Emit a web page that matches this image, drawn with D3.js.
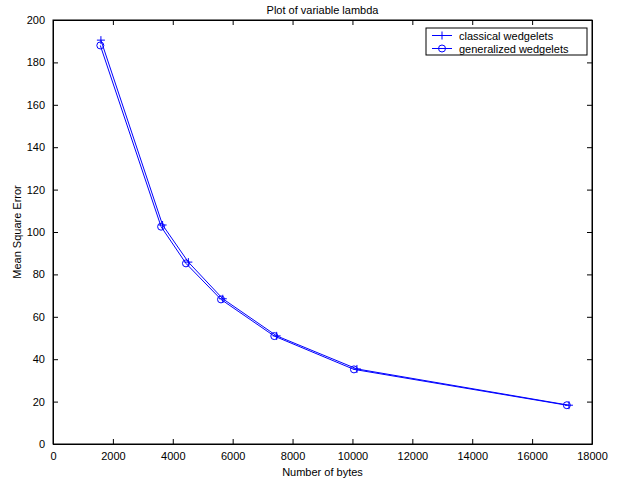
<!DOCTYPE html>
<html>
<head>
<meta charset="utf-8">
<script src="https://cdn.jsdelivr.net/npm/d3@7"></script>
<style>
  body { margin: 0; background: #fff; }
  text { font-family: "Liberation Sans", Arial, sans-serif; }
</style>
</head>
<body>
<div id="chart"></div>
<script>
// values
var classicalBytes = [1600, 3660, 4520, 5670, 7470, 10150, 17230];
var classicalMse   = [190.5, 103.3, 85.8, 68.5, 51.0, 35.4, 18.3];
var generalBytes   = [1580, 3610, 4440, 5610, 7390, 10050, 17160];
var generalMse     = [188.0, 102.5, 85.2, 68.2, 50.9, 35.2, 18.3];
var xTicks = [0, 2000, 4000, 6000, 8000, 10000, 12000, 14000, 16000, 18000];
var yTicks = [0, 20, 40, 60, 80, 100, 120, 140, 160, 180, 200];

var width = 628, height = 481;
var mLeft = 53, mRight = 592, mTop = 20, mBottom = 444;

var svg = d3.select("#chart").append("svg")
    .attr("width", width)
    .attr("height", height);

var x = d3.scaleLinear().domain([0, 18000]).range([mLeft, mRight]);
var y = d3.scaleLinear().domain([0, 200]).range([mBottom, mTop]);

// axes, ticks pointing inward on all four sides
svg.append("g")
    .attr("transform", "translate(0," + mBottom + ")")
    .call(d3.axisBottom(x).tickValues(xTicks).tickSizeInner(-5).tickSizeOuter(0).tickPadding(8).tickFormat(d3.format("d")));
svg.append("g")
    .attr("transform", "translate(0," + mTop + ")")
    .call(d3.axisTop(x).tickValues(xTicks).tickSizeInner(-5).tickSizeOuter(0).tickFormat(""));
svg.append("g")
    .attr("transform", "translate(" + mLeft + ",0)")
    .call(d3.axisLeft(y).tickValues(yTicks).tickSizeInner(-5).tickSizeOuter(0).tickPadding(8));
svg.append("g")
    .attr("transform", "translate(" + mRight + ",0)")
    .call(d3.axisRight(y).tickValues(yTicks).tickSizeInner(-5).tickSizeOuter(0).tickFormat(""));

svg.selectAll(".domain").attr("stroke", "#000");
svg.selectAll(".tick line").attr("stroke", "#000");
svg.selectAll(".tick text")
    .style("font-size", "11px")
    .attr("fill", "#000");

svg.append("rect")
    .attr("x", mLeft).attr("y", mTop)
    .attr("width", mRight - mLeft).attr("height", mBottom - mTop)
    .attr("fill", "none").attr("stroke", "#000");

// title and labels
svg.append("text")
    .attr("x", (mLeft + mRight) / 2).attr("y", 14)
    .attr("text-anchor", "middle")
    .style("font-size", "11px")
    .text("Plot of variable lambda");
svg.append("text")
    .attr("x", (mLeft + mRight) / 2).attr("y", 476)
    .attr("text-anchor", "middle")
    .style("font-size", "11px")
    .text("Number of bytes");
svg.append("text")
    .attr("transform", "translate(21," + (mTop + mBottom) / 2 + ") rotate(-90)")
    .attr("text-anchor", "middle")
    .style("font-size", "11px")
    .text("Mean Square Error");

var blue = "#0000ff";
var line = d3.line()
    .x(function(d) { return x(d[0]); })
    .y(function(d) { return y(d[1]); });

var classical = d3.zip(classicalBytes, classicalMse);
var general = d3.zip(generalBytes, generalMse);

svg.append("path").datum(classical)
    .attr("d", line).attr("fill", "none").attr("stroke", blue).attr("stroke-width", 1);
svg.append("path").datum(general)
    .attr("d", line).attr("fill", "none").attr("stroke", blue).attr("stroke-width", 1);

function plusMark(g, px, py) {
    g.append("path")
        .attr("d", "M" + (px - 4) + "," + py + "H" + (px + 4) + "M" + px + "," + (py - 4) + "V" + (py + 4))
        .attr("stroke", blue).attr("fill", "none");
}
function circleMark(g, px, py) {
    g.append("circle")
        .attr("cx", px).attr("cy", py).attr("r", 3.5)
        .attr("stroke", blue).attr("fill", "none");
}

var marks = svg.append("g");
classical.forEach(function(d) { plusMark(marks, x(d[0]), y(d[1])); });
general.forEach(function(d) { circleMark(marks, x(d[0]), y(d[1])); });

// legend
var leg = svg.append("g");
leg.append("rect")
    .attr("x", 426).attr("y", 28)
    .attr("width", 161).attr("height", 27)
    .attr("fill", "#fff").attr("stroke", "#000");
var legItems = [
    { label: "classical wedgelets", mark: plusMark, yy: 35.5 },
    { label: "generalized wedgelets", mark: circleMark, yy: 48.5 }
];
legItems.forEach(function(it) {
    leg.append("line")
        .attr("x1", 432).attr("x2", 452)
        .attr("y1", it.yy).attr("y2", it.yy)
        .attr("stroke", blue);
    it.mark(leg, 442, it.yy);
    leg.append("text")
        .attr("x", 459).attr("y", it.yy + 4)
        .style("font-size", "11px")
        .text(it.label);
});
</script>
</body>
</html>
